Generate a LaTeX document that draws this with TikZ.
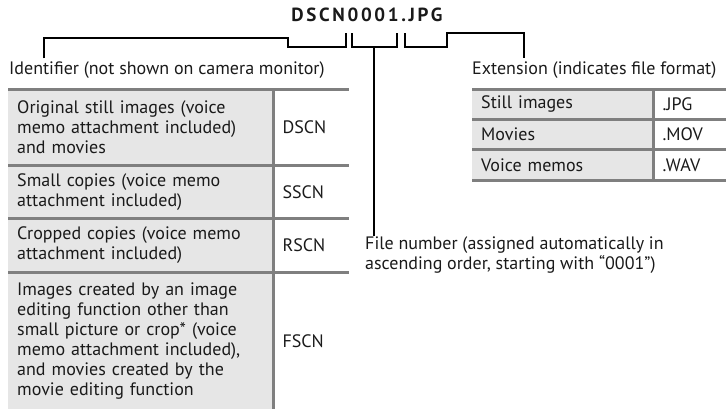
\documentclass[tikz,border=0pt]{standalone}
\usepackage{fontspec}
\setmainfont{PT Sans}
\usetikzlibrary{positioning,calc}
\definecolor{nkrule}{HTML}{7F7F7F}
\definecolor{nkfill}{HTML}{E6E6E6}
\definecolor{nkink}{HTML}{1A1A1A}
\tikzset{
  txt/.style={font=\fontsize{18}{20}\selectfont,text=nkink,inner sep=0pt,align=left},
  lbl/.style={txt,inner ysep=3pt},
  ttl/.style={font={\fontsize{19}{21}\selectfont\bfseries\addfontfeatures{LetterSpace=14}},text=nkink,inner sep=0pt},
  lcell/.style={txt,fill=nkfill,anchor=north west,text width=247pt,inner xsep=9pt,inner ysep=0pt},
  rcell/.style={txt,anchor=north west,text width=57pt,inner xsep=9pt,inner ysep=0pt},
  rule/.style={draw=nkrule,line width=3pt},
  brk/.style={draw=black,line width=2pt},
}
\begin{document}
\begin{tikzpicture}[x=1pt,y=-1pt]
  \useasboundingbox (0,0) rectangle (726,408);
  \node[ttl] (title) at (367,15) {DSCN0001.JPG};
  \node[lbl,anchor=west] (ident) at (9,70) {Identifier (not shown on camera monitor)};
  \node[lbl,anchor=west] (ext) at (472,70) {Extension (indicates file format)};
  \node[txt,anchor=north west] (fnum) at (365,236)
    {File number (assigned automatically in\\ascending order, starting with “0001”)};
  % identifier table
  \node[lcell,minimum height=76pt] (r1) at (8,89)
    {Original still images (voice\\memo attachment included)\\and movies};
  \node[lcell,minimum height=53pt,below=0pt of r1] (r2)
    {Small copies (voice memo\\attachment included)};
  \node[lcell,minimum height=53pt,below=0pt of r2] (r3)
    {Cropped copies (voice memo\\attachment included)};
  \node[lcell,minimum height=137pt,below=0pt of r3] (r4)
    {Images created by an image\\editing function other than\\small picture or crop* (voice\\memo attachment included),\\and movies created by the\\movie editing function};
  \node[rcell,minimum height=76pt,right=0pt of r1] (d1) {DSCN};
  \node[rcell,minimum height=53pt,right=0pt of r2] (d2) {SSCN};
  \node[rcell,minimum height=53pt,right=0pt of r3] (d3) {RSCN};
  \node[rcell,minimum height=137pt,right=0pt of r4] (d4) {FSCN};
  \foreach \r/\d in {r1/d1,r2/d2,r3/d3,r4/d4}
    {\draw[rule] (\r.north west) -- (\d.north east);}
  \draw[rule] (r1.north east) -- (r4.south east);
  % extension table
  \node[lcell,text width=163pt,minimum height=30pt] (s1) at (472,89) {Still images};
  \node[lcell,text width=163pt,minimum height=30pt,below=0pt of s1] (s2) {Movies};
  \node[lcell,text width=163pt,minimum height=30pt,below=0pt of s2] (s3) {Voice memos};
  \node[rcell,text width=55pt,minimum height=30pt,right=0pt of s1] (x1) {.JPG};
  \node[rcell,text width=55pt,minimum height=30pt,right=0pt of s2] (x2) {.MOV};
  \node[rcell,text width=55pt,minimum height=30pt,right=0pt of s3] (x3) {.WAV};
  \foreach \s/\x in {s1/x1,s2/x2,s3/x3}
    {\draw[rule] (\s.north west) -- (\x.north east);}
  \draw[rule] (s3.south west) -- (x3.south east);
  \draw[rule] (s1.north east) -- (s3.south east);
  % brackets
  \coordinate (bb) at (0,47);
  \coordinate (idk) at (44,38);
  \coordinate (a1) at (288,38);
  \coordinate (a2) at (346,33);
  \coordinate (b1) at (352,33);
  \coordinate (b2) at (397,33);
  \coordinate (bm) at (374,47);
  \coordinate (c1) at (405,33);
  \coordinate (c2) at (447,33);
  \coordinate (exk) at (524,33);
  \draw[brk] (idk |- ident.north) -- (idk) -- (a1) -- (a1 |- bb) -- (a2 |- bb) -- (a2);
  \draw[brk] (b1) -- (b1 |- bb) -- (b2 |- bb) -- (b2);
  \draw[brk] (bm) -- (bm |- fnum.north);
  \draw[brk] (c1) -- (c1 |- bb) -- (c2 |- bb) -- (c2) -- (exk) -- (exk |- ext.north);
\end{tikzpicture}
\end{document}
